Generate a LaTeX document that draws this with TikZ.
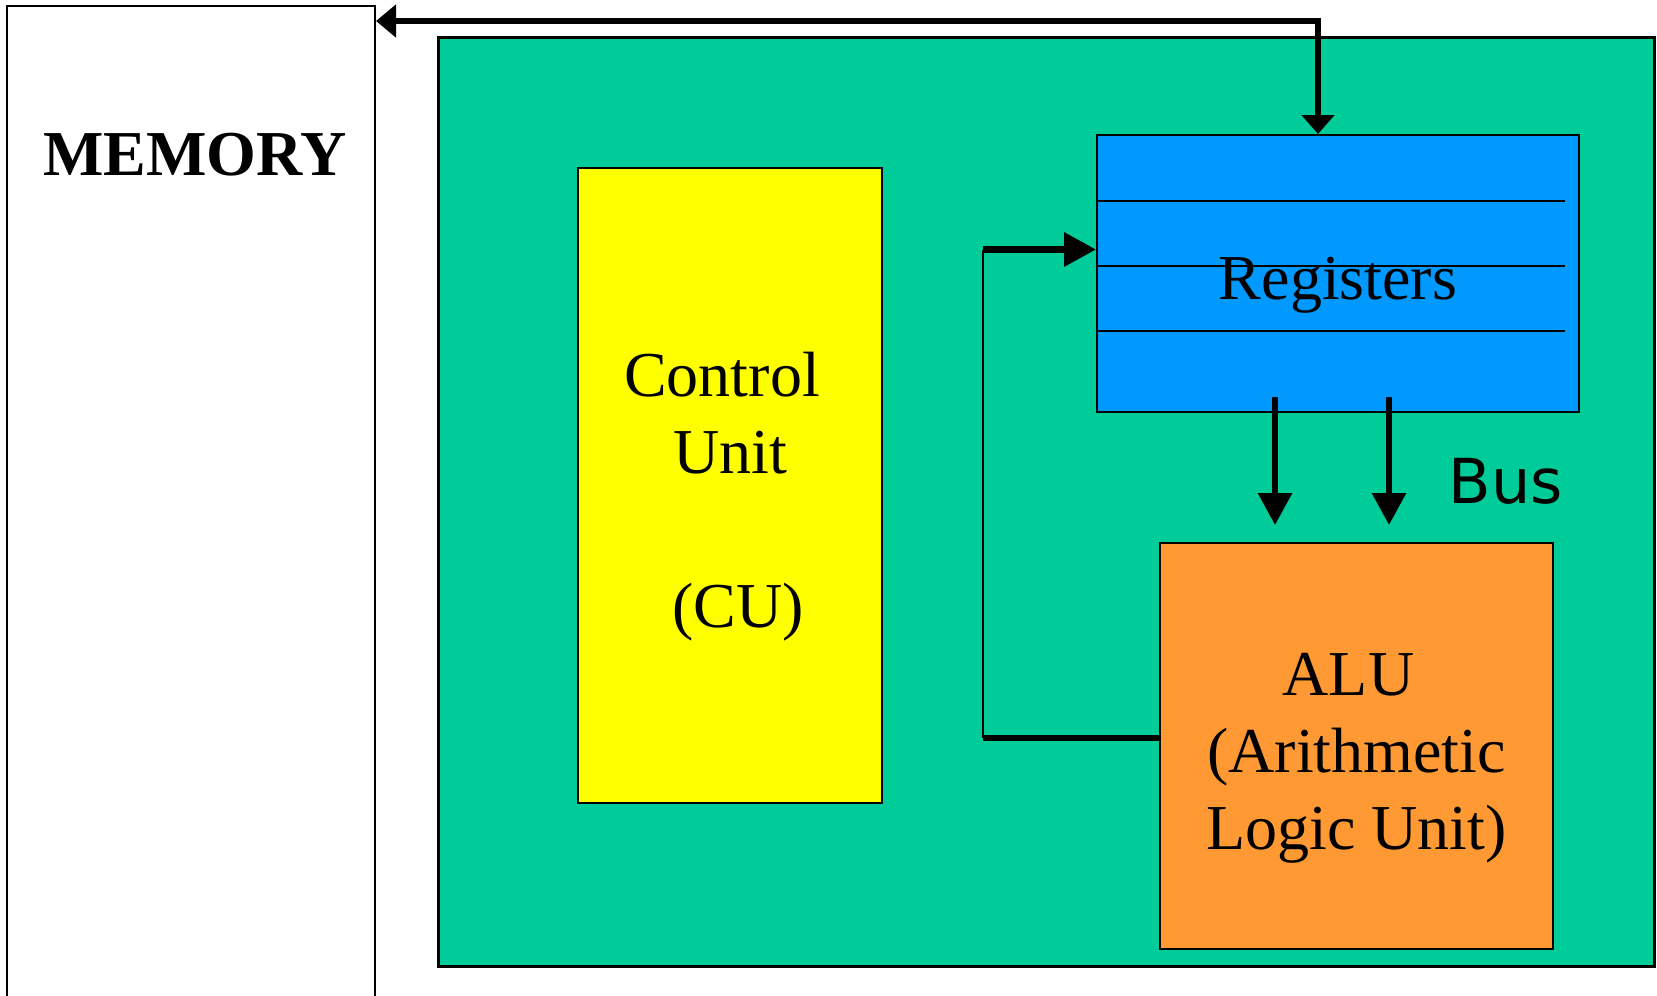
\documentclass[tikz,border=0pt]{standalone}
\usepackage{fontspec}
\setmainfont{Liberation Serif}
\newfontfamily\busfont{DejaVu Sans}
\usetikzlibrary{arrows.meta}
\definecolor{cpugreen}{HTML}{00CC99}
\definecolor{regblue}{HTML}{0099FF}
\definecolor{cuyellow}{HTML}{FFFF00}
\definecolor{aluorange}{HTML}{FF9933}
\begin{document}
\begin{tikzpicture}[x=0.5pt,y=-0.5pt,
  box/.style={draw, line width=1pt, inner sep=0pt},
  bigarrow/.style={line width=3.3pt},
  busarrow/.style={line width=3pt, -{Triangle[length=16pt,width=16.5pt]}},
  lbl/.style={inner sep=0pt, align=center, font=\fontsize{32pt}{38.5pt}\selectfont}
]
\useasboundingbox (0,0) rectangle (1657,995);
\clip (0,0) rectangle (1657,995);
\fill[white] (0,0) rectangle (1657,995);

% memory
\node[box, fill=white, minimum width=184pt, minimum height=502pt] (mem) at (191,508) {};
\node[lbl, font=\fontsize{32pt}{38.5pt}\selectfont\bfseries] (memlbl) at (195,155) {MEMORY};

% CPU
\node[box, fill=cpugreen, line width=1.5pt, minimum width=607.7pt, minimum height=464pt] (cpu) at (1046.3,502) {};

% control unit
\node[box, fill=cuyellow, minimum width=152pt, minimum height=317.5pt] (cu) at (730,485.5) {};
\node[lbl] (cutext) at ([yshift=-5.4pt]cu.center)
  {Control\rule{8pt}{0pt}\\Unit\\[38.5pt]\rule{8pt}{0pt}(CU)};

% registers
\node[box, fill=regblue, minimum width=241pt, minimum height=138.5pt] (regs) at (1338,273.5) {};
\coordinate (r1) at (1565,201);
\coordinate (r2) at (1565,266);
\coordinate (r3) at (1565,331);
\draw[line width=0.9pt] (r1 -| regs.west) -- (r1);
\draw[line width=0.9pt] (r2 -| regs.west) -- (r2);
\draw[line width=0.9pt] (r3 -| regs.west) -- (r3);
\node[lbl] (reglbl) at (1338,285.5) {Registers};

% ALU
\node[box, fill=aluorange, minimum width=196.5pt, minimum height=203pt] (alu) at (1356.5,746) {};
\node[lbl] (alutext) at ([yshift=-6pt]alu.center)
  {ALU\rule{8pt}{0pt}\\(Arithmetic\\Logic Unit)};

% memory <-> registers
\coordinate (bend) at (1318,21);
\draw[bigarrow, {Triangle[length=10pt,width=16pt]}-{Triangle[length=9.5pt,width=16pt]}]
  (bend -| mem.east) -- (bend) -- (bend |- regs.north);

% feedback ALU -> registers
\coordinate (fbbot) at (983,738);
\coordinate (fbtop) at (983,249.5);
\draw[line width=3.3pt] (fbbot -| alu.west) -- (fbbot);
\draw[line width=1pt] (fbbot) -- (fbtop);
\draw[line width=3.3pt, -{Triangle[length=16pt,width=16.5pt]}] (fbtop) -- (fbtop -| regs.west);

% bus arrows
\coordinate (b1s) at (1275,397);
\coordinate (b1e) at (1275,525);
\coordinate (b2s) at (1389,397);
\coordinate (b2e) at (1389,525);
\draw[busarrow] (b1s) -- (b1e);
\draw[busarrow] (b2s) -- (b2e);
\node[inner sep=0pt, font=\busfont\fontsize{31pt}{37pt}\selectfont] (bus) at (1506,481) {Bus};
\end{tikzpicture}
\end{document}
